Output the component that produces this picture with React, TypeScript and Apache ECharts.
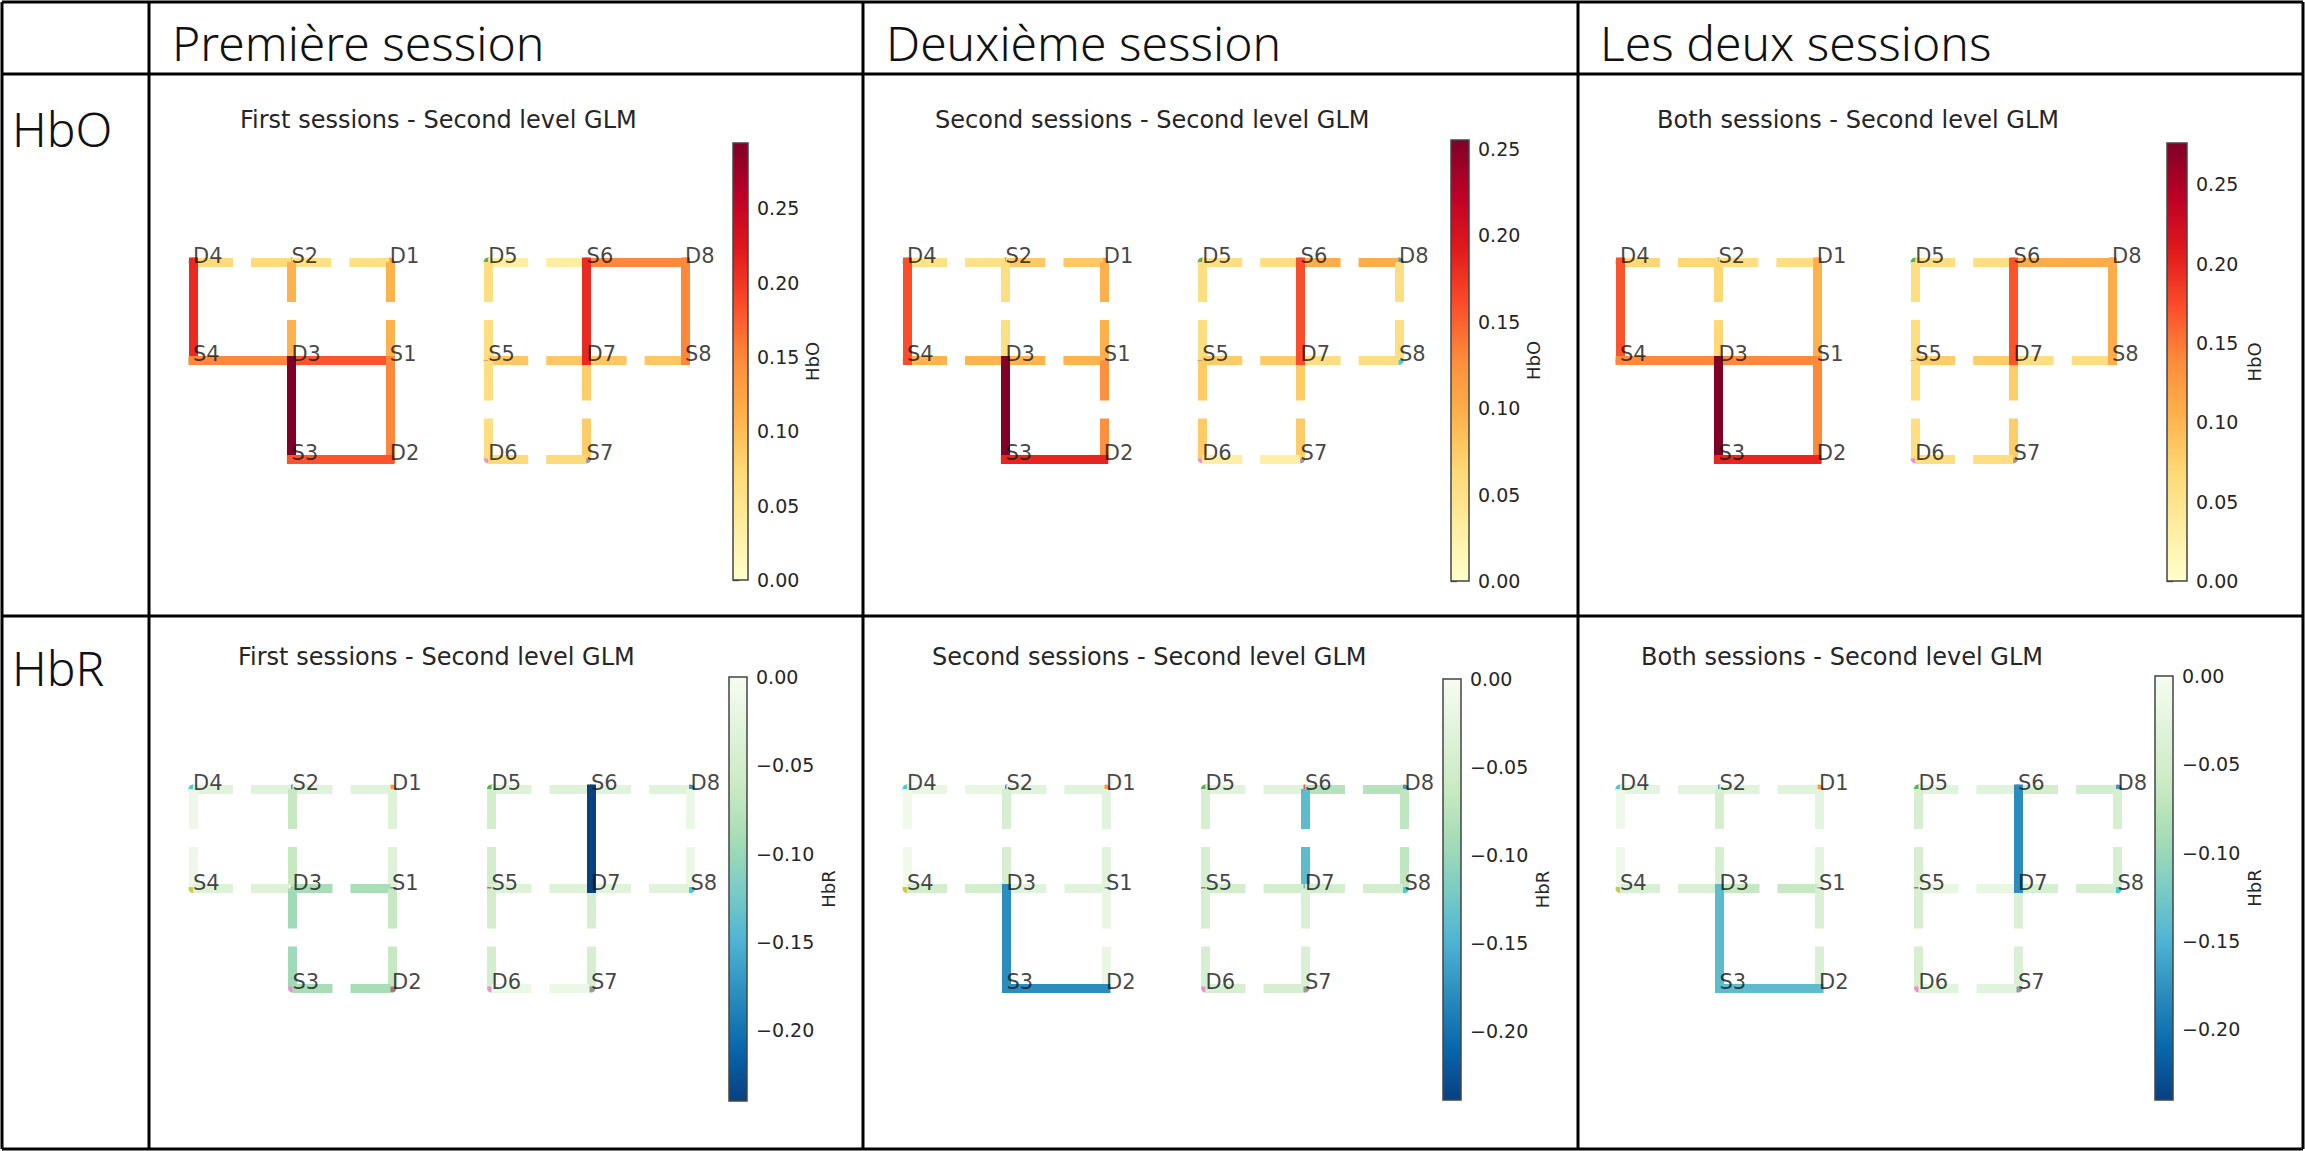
import React, { useEffect, useRef } from "react";
import * as echarts from "echarts";

// ---------- texts ----------
const columnHeaders = ["Première session", "Deuxième session", "Les deux sessions"];
const rowHeaders = ["HbO", "HbR"];
const panelTitles = [
  "First sessions - Second level GLM",
  "Second sessions - Second level GLM",
  "Both sessions - Second level GLM",
];

// ---------- montage (optodes) ----------
const nodeNames = ["D4", "S2", "D1", "D5", "S6", "D8", "S4", "D3", "S1", "S5", "D7", "S8", "S3", "D2", "D6", "S7"];
const nodeCols = [0, 1, 2, 3, 4, 5, 0, 1, 2, 3, 4, 5, 1, 2, 3, 4];
const nodeRows = [0, 0, 0, 0, 0, 0, 1, 1, 1, 1, 1, 1, 2, 2, 2, 2];
const nodeColors = ["#17becf", "#1f77b4", "#ff7f0e", "#2ca02c", "#d62728", "#1f77b4", "#bcbd22", "#9467bd",
  "#9467bd", "#8c564b", "#7f7f7f", "#17becf", "#e377c2", "#8c564b", "#e377c2", "#7f7f7f"];

// channels (first end = top/left)
const channelFrom = ["D4", "S2", "D4", "S2", "D1", "S4", "D3", "D3", "S1", "S3", "D5", "S6", "D5", "S6", "D8", "S5", "D7", "S5", "D7", "D6"];
const channelTo = ["S2", "D1", "S4", "D3", "S1", "D3", "S1", "S3", "D2", "D2", "S6", "D8", "S5", "D7", "S8", "D7", "S8", "D6", "S7", "S7"];

// ---------- values ----------
const hboFirst = [0.07, 0.06, 0.21, 0.11, 0.11, 0.15, 0.18, 0.294, 0.15, 0.18, 0.035, 0.15, 0.065, 0.21, 0.15, 0.09, 0.09, 0.065, 0.085, 0.07];
const hboFirstSig = [0, 0, 1, 0, 0, 1, 1, 1, 1, 1, 0, 1, 0, 1, 1, 0, 0, 0, 0, 0];
const hboSecond = [0.05, 0.077, 0.16, 0.055, 0.097, 0.095, 0.095, 0.255, 0.125, 0.185, 0.055, 0.1, 0.055, 0.16, 0.055, 0.075, 0.055, 0.075, 0.075, 0.03];
const hboSecondSig = [0, 0, 1, 0, 0, 0, 0, 1, 0, 1, 0, 0, 0, 1, 0, 0, 0, 0, 0, 0];
const hboBoth = [0.07, 0.06, 0.17, 0.07, 0.105, 0.14, 0.14, 0.276, 0.14, 0.2, 0.06, 0.11, 0.06, 0.17, 0.11, 0.08, 0.06, 0.06, 0.08, 0.06];
const hboBothSig = [0, 0, 1, 0, 1, 1, 1, 1, 1, 1, 0, 1, 0, 1, 1, 0, 0, 0, 0, 0];

const hbrFirst = [-0.03, -0.03, -0.012, -0.065, -0.035, -0.035, -0.09, -0.095, -0.065, -0.09, -0.035, -0.03, -0.05, -0.24, -0.015, -0.035, -0.03, -0.05, -0.045, -0.015];
const hbrFirstSig = [0, 0, 0, 0, 0, 0, 0, 0, 0, 0, 0, 0, 0, 1, 0, 0, 0, 0, 0, 0];
const hbrSecond = [-0.02, -0.03, -0.008, -0.045, -0.03, -0.05, -0.03, -0.18, -0.02, -0.18, -0.03, -0.08, -0.045, -0.14, -0.07, -0.05, -0.05, -0.045, -0.04, -0.045];
const hbrSecondSig = [0, 0, 0, 0, 0, 0, 0, 1, 0, 1, 0, 0, 0, 0, 0, 0, 0, 0, 0, 0];
const hbrBoth = [-0.025, -0.03, -0.01, -0.045, -0.025, -0.04, -0.065, -0.14, -0.04, -0.14, -0.03, -0.05, -0.045, -0.18, -0.045, -0.02, -0.045, -0.045, -0.04, -0.03];
const hbrBothSig = [0, 0, 0, 0, 0, 0, 0, 1, 0, 1, 0, 0, 0, 1, 0, 0, 0, 0, 0, 0];

// colorbar ranges and ticks
const hboMax = [0.294, 0.255, 0.276];
const hbrMin = [-0.24, -0.2395, -0.24];
const hboTicks = [0, 0.05, 0.1, 0.15, 0.2, 0.25];
const hbrTicks = [0, -0.05, -0.1, -0.15, -0.2];

// colormaps
const YlOrRd = ["#ffffcc", "#ffeda0", "#fed976", "#feb24c", "#fd8d3c", "#fc4e2a", "#e31a1c", "#bd0026", "#800026"];
const GnBu = ["#f7fcf0", "#e0f3db", "#ccebc5", "#a8ddb5", "#7bccc4", "#4eb3d3", "#2b8cbe", "#0868ac", "#084081"];

// ---------- layout (pixels) ----------
const LAYOUT = {
  tableX: [2, 149, 863, 1578, 2303],
  tableY: [2, 74, 616, 1149],
  headerX: [172, 886, 1600],
  headerY: 42,
  rowLabelX: 12,
  rowLabelY: [128, 667],
  colX0: [193, 907, 1620],
  rowY0: [262, 789],
  spacing: [98.4, 99.5],
  cbLeft: [[733, 1451, 2167], [729, 1443, 2155]],
  cbTop: [[143, 140, 143], [677, 679, 676]],
  cbBottom: [[580, 581, 581], [1101, 1100, 1100]],
  cbWidth: [[15, 18, 20], [18, 18, 18]],
  cbNameGap: [[46, 46, 58], [72, 72, 72]],
  titleLeft: [[240, 935, 1657], [238, 932, 1641]],
  titleTop: [108, 645],
};

function hexToRgb(h: string) {
  const n = parseInt(h.slice(1), 16);
  return [(n >> 16) & 255, (n >> 8) & 255, n & 255];
}
function cmap(stops: string[], t: number) {
  const tt = Math.max(0, Math.min(1, t));
  const pos = tt * (stops.length - 1);
  const i = Math.min(stops.length - 2, Math.floor(pos));
  const f = pos - i;
  const a = hexToRgb(stops[i]);
  const b = hexToRgb(stops[i + 1]);
  const c = a.map((v, k) => Math.round(v + (b[k] - v) * f));
  return `rgb(${c[0]},${c[1]},${c[2]})`;
}

const panelData = [
  [
    { vals: hboFirst, sig: hboFirstSig },
    { vals: hboSecond, sig: hboSecondSig },
    { vals: hboBoth, sig: hboBothSig },
  ],
  [
    { vals: hbrFirst, sig: hbrFirstSig },
    { vals: hbrSecond, sig: hbrSecondSig },
    { vals: hbrBoth, sig: hbrBothSig },
  ],
];

function fmtTick(v: number) {
  return (v < 0 ? "\u2212" : "") + Math.abs(v).toFixed(2);
}

export default function App() {
  const ref = useRef<HTMLDivElement>(null);
  useEffect(() => {
    document.body.style.margin = "0";
    if (!ref.current) return;
    const chart = echarts.init(ref.current, undefined, { renderer: "svg" });

    const grids: any[] = [];
    const xAxes: any[] = [];
    const yAxes: any[] = [];
    const series: any[] = [];
    const titles: any[] = [];

    const nodeIndex = (n: string) => nodeNames.indexOf(n);

    for (let r = 0; r < 2; r++) {
      for (let c = 0; c < 3; c++) {
        const { vals, sig } = panelData[r][c];
        const isHbo = r === 0;
        const vmin = isHbo ? 0 : hbrMin[c];
        const vmax = isHbo ? hboMax[c] : 0;
        const colorOf = (v: number) => {
          const t = (v - vmin) / (vmax - vmin);
          return isHbo ? cmap(YlOrRd, t) : cmap(GnBu, 1 - t);
        };
        const sp = LAYOUT.spacing[r];

        // ---- montage grid ----
        const gi = grids.length;
        grids.push({
          left: LAYOUT.colX0[c],
          top: LAYOUT.rowY0[r],
          width: 5 * sp,
          height: 2 * sp,
          outerBoundsMode: "none",
        });
        xAxes.push({ gridIndex: gi, type: "value", min: 0, max: 5, show: false });
        yAxes.push({ gridIndex: gi, type: "value", min: 0, max: 2, inverse: true, show: false });

        series.push({
          type: "scatter",
          xAxisIndex: gi,
          yAxisIndex: gi,
          symbolSize: 9,
          z: 1,
          clip: false,
          silent: true,
          data: nodeNames.map((n, k) => ({
            name: n,
            value: [nodeCols[k], nodeRows[k]],
            itemStyle: { color: nodeColors[k] },
          })),
        });
        const makeLines = (solid: boolean) =>
          channelFrom
            .map((f, k) => ({ f, k }))
            .filter(({ k }) => (sig[k] === 1) === solid)
            .map(({ f, k }) => {
              const a = nodeIndex(f);
              const b = nodeIndex(channelTo[k]);
              return {
                coords: [
                  [nodeCols[a], nodeRows[a]],
                  [nodeCols[b], nodeRows[b]],
                ],
                lineStyle: {
                  color: colorOf(vals[k]),
                  width: 9,
                  opacity: 1,
                  type: solid ? "solid" : [40, 18],
                  cap: solid ? "square" : "butt",
                },
              };
            });
        series.push({
          type: "lines",
          coordinateSystem: "cartesian2d",
          xAxisIndex: gi,
          yAxisIndex: gi,
          z: 2,
          clip: false,
          silent: true,
          data: makeLines(false),
        });
        series.push({
          type: "lines",
          coordinateSystem: "cartesian2d",
          xAxisIndex: gi,
          yAxisIndex: gi,
          z: 3,
          clip: false,
          silent: true,
          data: makeLines(true),
        });
        series.push({
          type: "scatter",
          xAxisIndex: gi,
          yAxisIndex: gi,
          symbolSize: 2,
          z: 4,
          clip: false,
          silent: true,
          itemStyle: { color: "rgba(0,0,0,0)" },
          label: {
            show: true,
            position: "right",
            distance: 0,
            offset: [-1, -6],
            formatter: "{b}",
            fontFamily: "DejaVu Sans",
            fontSize: 21,
            color: "#141414",
          },
          data: nodeNames.map((n, k) => ({ name: n, value: [nodeCols[k], nodeRows[k]] })),
        });

        // ---- colorbar ----
        const ci = grids.length;
        const top = LAYOUT.cbTop[r][c];
        const bottom = LAYOUT.cbBottom[r][c];
        grids.push({
          left: LAYOUT.cbLeft[r][c],
          top,
          width: LAYOUT.cbWidth[r][c],
          height: bottom - top,
          outerBoundsMode: "none",
        });
        xAxes.push({ gridIndex: ci, type: "value", min: 0, max: 1, show: false });
        const ticks = isHbo ? hboTicks : hbrTicks;
        yAxes.push({
          gridIndex: ci,
          type: "value",
          min: vmin,
          max: vmax,
          position: "right",
          splitLine: { show: false },
          axisLine: { show: false },
          axisTick: {
            show: true,
            length: 6,
            customValues: ticks,
            lineStyle: { color: "#333", width: 1.3 },
          },
          axisLabel: {
            show: true,
            customValues: ticks,
            formatter: (v: number) => fmtTick(v),
            fontFamily: "DejaVu Sans",
            fontSize: 19,
            color: "#262626",
            margin: 9,
          },
          name: rowHeaders[r],
          nameLocation: "middle",
          nameRotate: 90,
          nameGap: LAYOUT.cbNameGap[r][c],
          nameTextStyle: { fontFamily: "DejaVu Sans", fontSize: 18, color: "#262626" },
        });
        const stops = [];
        for (let k = 0; k <= 16; k++) {
          const s = k / 16;
          const t = 1 - s;
          stops.push({ offset: s, color: isHbo ? cmap(YlOrRd, t) : cmap(GnBu, 1 - t) });
        }
        const grad = new echarts.graphic.LinearGradient(0, 0, 0, 1, stops);
        series.push({
          type: "custom",
          xAxisIndex: ci,
          yAxisIndex: ci,
          clip: false,
          silent: true,
          data: [[0, vmin, vmax]],
          encode: { x: 0, y: [1, 2] },
          renderItem: (_p: any, api: any) => {
            const p1 = api.coord([0, api.value(2)]);
            const p2 = api.coord([1, api.value(1)]);
            return {
              type: "rect",
              shape: { x: p1[0], y: p1[1], width: p2[0] - p1[0], height: p2[1] - p1[1] },
              style: { fill: grad, stroke: "#444", lineWidth: 1.5 },
            };
          },
        });

        titles.push({
          text: panelTitles[c],
          left: LAYOUT.titleLeft[r][c],
          top: LAYOUT.titleTop[r],
          padding: 0,
          textStyle: { fontFamily: "DejaVu Sans", fontSize: 24, fontWeight: "normal", color: "#262626" },
        });
      }
    }

    // ---- table graphic ----
    const g: any[] = [];
    const tx = LAYOUT.tableX;
    const ty = LAYOUT.tableY;
    tx.forEach((x) =>
      g.push({ type: "line", shape: { x1: x, y1: ty[0], x2: x, y2: ty[ty.length - 1] }, style: { stroke: "#000", lineWidth: 3 } })
    );
    ty.forEach((y) =>
      g.push({ type: "line", shape: { x1: tx[0], y1: y, x2: tx[tx.length - 1], y2: y }, style: { stroke: "#000", lineWidth: 3 } })
    );
    const headFont = "300 48px 'Noto Sans', 'Open Sans', sans-serif";
    columnHeaders.forEach((t, i) =>
      g.push({
        type: "text",
        x: LAYOUT.headerX[i],
        y: LAYOUT.headerY,
        style: { text: t, font: headFont, fill: "#111", verticalAlign: "middle", align: "left" },
      })
    );
    rowHeaders.forEach((t, i) =>
      g.push({
        type: "text",
        x: LAYOUT.rowLabelX,
        y: LAYOUT.rowLabelY[i],
        style: { text: t, font: headFont, fill: "#111", verticalAlign: "middle", align: "left" },
      })
    );

    chart.setOption({
      animation: false,
      backgroundColor: "#fff",
      title: titles,
      grid: grids,
      xAxis: xAxes,
      yAxis: yAxes,
      series,
      graphic: g,
    });
    return () => chart.dispose();
  }, []);
  return <div ref={ref} style={{ width: 2305, height: 1151 }} />;
}
